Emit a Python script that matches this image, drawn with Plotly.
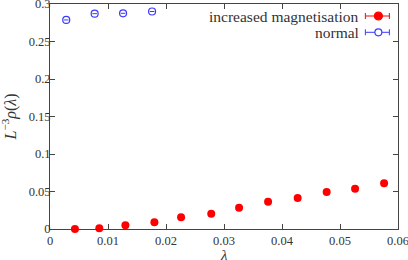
import plotly.graph_objects as go

# data
inc_lambda = [0.0043, 0.0085, 0.013, 0.018, 0.0226, 0.0278, 0.0326, 0.0376, 0.0427, 0.0477, 0.0526, 0.0576]
inc_rho = [0.0000, 0.0010, 0.0050, 0.0090, 0.0156, 0.0204, 0.0284, 0.0364, 0.0413, 0.0493, 0.0537, 0.0610]
inc_err = [0.0004] * len(inc_lambda)
norm_lambda = [0.0028, 0.0077, 0.0126, 0.0176]
norm_rho = [0.2787, 0.2871, 0.2876, 0.2900]
norm_err = [0.0004] * len(norm_lambda)

x_ticks = [0, 0.01, 0.02, 0.03, 0.04, 0.05, 0.06]
x_labels = ["0", "0.01", "0.02", "0.03", "0.04", "0.05", "0.06"]
y_ticks = [0, 0.05, 0.1, 0.15, 0.2, 0.25, 0.3]
y_labels = ["0", "0.05", "0.1", "0.15", "0.2", "0.25", "0.3"]

RED = "#ff0000"
BLUE = "#3a3aff"
FONT = "Liberation Serif"
AX = "#444444"
TXT = "#333333"

fig = go.Figure()
fig.add_trace(go.Scatter(
    x=inc_lambda, y=inc_rho, mode="markers", name="increased magnetisation",
    marker=dict(color=RED, size=8, symbol="circle"),
    error_x=dict(type="data", array=inc_err, color=RED, width=0, thickness=1),
    showlegend=False, cliponaxis=False))
fig.add_trace(go.Scatter(
    x=norm_lambda, y=norm_rho, mode="markers", name="normal",
    marker=dict(color=BLUE, size=7, symbol="circle-open", line=dict(width=1.2, color=BLUE)),
    error_x=dict(type="data", array=norm_err, color=BLUE, width=0, thickness=1),
    showlegend=False))

common = dict(showline=True, linecolor=AX, linewidth=1, mirror="ticks", ticks="inside",
              ticklen=5, tickcolor=AX, showgrid=False, zeroline=False, automargin=False,
              ticklabeloverflow="allow",
              tickfont=dict(family=FONT, size=12.5, color=TXT))
fig.update_xaxes(range=[0, 0.06], tickvals=x_ticks, ticktext=x_labels, **common)
fig.update_yaxes(range=[0, 0.3], tickvals=y_ticks, ticktext=y_labels, ticklabelstandoff=-4, **common)

annotations = [
    dict(xref="paper", yref="paper", x=0.5, y=-26 / 225, yanchor="middle", xanchor="center",
         text="<i>λ</i>", showarrow=False, font=dict(family=FONT, size=15, color=TXT)),
    dict(xref="paper", yref="paper", x=-40 / 347.6, y=0.5, xanchor="center", yanchor="middle",
         textangle=-90, text="<i>L</i><sup>−3</sup><i>ρ</i>(<i>λ</i>)", showarrow=False,
         font=dict(family=FONT, size=16, color=TXT)),
]

# legend (text right, sample on the right as in the original)
legend_items = [("increased magnetisation", RED, True), ("normal", BLUE, False)]
shapes = []
for i, (label, col, filled) in enumerate(legend_items):
    yy = 16 + i * 16.3  # px from top
    yp = 1 - (yy - 4) / 225.0
    x0 = (365 - 50) / 347.6
    x1 = (389 - 50) / 347.6
    xc = (378 - 50) / 347.6
    annotations.append(dict(xref="paper", yref="paper", x=(361 - 50) / 347.6, y=yp,
                            text=label, showarrow=False, xanchor="right", yanchor="middle",
                            font=dict(family=FONT, size=15.5, color=TXT)))
    shapes.append(dict(type="line", xref="paper", yref="paper", x0=x0, x1=x1, y0=yp, y1=yp,
                       line=dict(color=col, width=1)))
    for xe in (x0, x1):
        shapes.append(dict(type="line", xref="paper", yref="paper", x0=xe, x1=xe,
                           y0=yp - 3 / 225, y1=yp + 3 / 225, line=dict(color=col, width=1)))
    r = 4 if filled else 3.5
    shapes.append(dict(type="circle", xref="paper", yref="paper",
                       x0=xc - r / 347.6, x1=xc + r / 347.6, y0=yp - r / 225, y1=yp + r / 225,
                       fillcolor=col if filled else "white", line=dict(color=col, width=1.2)))

fig.update_layout(width=408, height=260, margin=dict(l=50, r=10, t=4, b=31),
                  font=dict(family=FONT, color=TXT),
                  plot_bgcolor="white", paper_bgcolor="white",
                  shapes=shapes, annotations=annotations)
fig.write_html("out.html", config={"displayModeBar": False, "responsive": False},
               post_script="document.body.style.margin='0';document.body.style.overflow='hidden';")
